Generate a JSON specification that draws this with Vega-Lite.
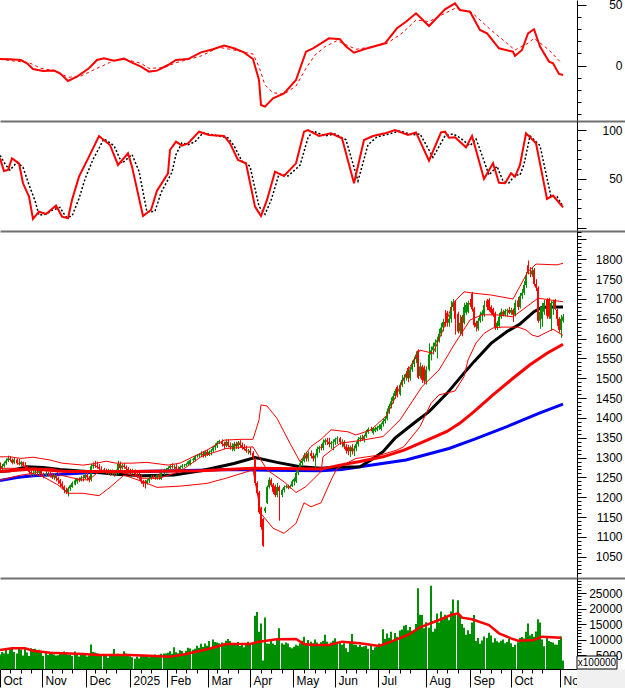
{
"$schema":"https://vega.github.io/schema/vega-lite/v6.json",
"padding":{"left":-6,"top":-2,"right":0,"bottom":0},
"background":"white",
"bounds":"flush",
"spacing":0,
"config":{"view":{"stroke":null},"axis":{"grid":false,"title":null,"labelFont":"Liberation Sans","labelFontSize":12,"labelColor":"#000","tickColor":"#000","domainColor":"#000","labelOverlap":false,"labelFlush":false,"labelBound":false}},
"datasets":{
"bars":[
{"i":0,"o":1282,"h":1288,"l":1266,"c":1272,"v":5200},{"i":1,"o":1272,"h":1284,"l":1268,"c":1279,"v":6000},{"i":2,"o":1279,"h":1290,"l":1275,"c":1286,"v":5600},{"i":3,"o":1286,"h":1298,"l":1282,"c":1293,"v":6800},{"i":4,"o":1293,"h":1305,"l":1289,"c":1298,"v":5400},{"i":5,"o":1298,"h":1304,"l":1290,"c":1294,"v":7000},{"i":6,"o":1294,"h":1298,"l":1283,"c":1287,"v":7300},{"i":7,"o":1287,"h":1299,"l":1284,"c":1295,"v":6000},{"i":8,"o":1295,"h":1298,"l":1282,"c":1286,"v":5500},{"i":9,"o":1286,"h":1297,"l":1280,"c":1283,"v":7100},
{"i":10,"o":1283,"h":1292,"l":1278,"c":1288,"v":6800},{"i":11,"o":1288,"h":1290,"l":1276,"c":1280,"v":4800},{"i":12,"o":1280,"h":1289,"l":1272,"c":1276,"v":7000},{"i":13,"o":1276,"h":1280,"l":1266,"c":1273,"v":5800},{"i":14,"o":1273,"h":1276,"l":1258,"c":1264,"v":4700},{"i":15,"o":1264,"h":1268,"l":1252,"c":1260,"v":7200},{"i":16,"o":1260,"h":1268,"l":1254,"c":1262,"v":6900},{"i":17,"o":1262,"h":1272,"l":1258,"c":1265,"v":7000},{"i":18,"o":1265,"h":1272,"l":1258,"c":1262,"v":6400},{"i":19,"o":1262,"h":1270,"l":1256,"c":1266,"v":6700},
{"i":20,"o":1266,"h":1268,"l":1252,"c":1258,"v":6300},{"i":21,"o":1258,"h":1262,"l":1248,"c":1256,"v":4700},{"i":22,"o":1256,"h":1266,"l":1252,"c":1260,"v":6100},{"i":23,"o":1260,"h":1264,"l":1252,"c":1258,"v":5000},{"i":24,"o":1258,"h":1264,"l":1250,"c":1254,"v":5600},{"i":25,"o":1254,"h":1262,"l":1246,"c":1250,"v":5500},{"i":26,"o":1250,"h":1260,"l":1244,"c":1256,"v":5200},{"i":27,"o":1256,"h":1258,"l":1240,"c":1248,"v":4800},{"i":28,"o":1248,"h":1252,"l":1234,"c":1243,"v":4900},{"i":29,"o":1243,"h":1246,"l":1226,"c":1235,"v":5800},
{"i":30,"o":1235,"h":1240,"l":1220,"c":1227,"v":5300},{"i":31,"o":1227,"h":1230,"l":1210,"c":1218,"v":6100},{"i":32,"o":1218,"h":1224,"l":1208,"c":1214,"v":5600},{"i":33,"o":1212,"h":1226,"l":1202,"c":1222,"v":5200},{"i":34,"o":1222,"h":1232,"l":1216,"c":1230,"v":5100},{"i":35,"o":1226,"h":1240,"l":1224,"c":1236,"v":4700},{"i":36,"o":1232,"h":1248,"l":1230,"c":1243,"v":6100},{"i":37,"o":1240,"h":1248,"l":1234,"c":1246,"v":5000},{"i":38,"o":1246,"h":1250,"l":1238,"c":1242,"v":4500},{"i":39,"o":1242,"h":1254,"l":1240,"c":1250,"v":5200},
{"i":40,"o":1250,"h":1256,"l":1240,"c":1248,"v":5300},{"i":41,"o":1248,"h":1260,"l":1246,"c":1256,"v":5000},{"i":42,"o":1256,"h":1262,"l":1242,"c":1250,"v":4500},{"i":43,"o":1250,"h":1254,"l":1238,"c":1244,"v":4900},{"i":44,"o":1244,"h":1284,"l":1240,"c":1278,"v":8400},{"i":45,"o":1278,"h":1288,"l":1272,"c":1282,"v":6000},{"i":46,"o":1282,"h":1292,"l":1274,"c":1279,"v":5800},{"i":47,"o":1279,"h":1290,"l":1272,"c":1276,"v":5600},{"i":48,"o":1276,"h":1284,"l":1268,"c":1272,"v":5400},{"i":49,"o":1272,"h":1278,"l":1264,"c":1270,"v":5200},
{"i":50,"o":1270,"h":1274,"l":1262,"c":1266,"v":5300},{"i":51,"o":1266,"h":1272,"l":1258,"c":1262,"v":5000},{"i":52,"o":1262,"h":1272,"l":1256,"c":1268,"v":4000},{"i":53,"o":1268,"h":1270,"l":1254,"c":1260,"v":5000},{"i":54,"o":1260,"h":1270,"l":1256,"c":1264,"v":5400},{"i":55,"o":1264,"h":1268,"l":1252,"c":1258,"v":6900},{"i":56,"o":1258,"h":1270,"l":1254,"c":1266,"v":5000},{"i":57,"o":1262,"h":1292,"l":1258,"c":1284,"v":5400},{"i":58,"o":1284,"h":1290,"l":1268,"c":1273,"v":5000},{"i":59,"o":1273,"h":1284,"l":1270,"c":1280,"v":4700},
{"i":60,"o":1280,"h":1286,"l":1272,"c":1276,"v":6200},{"i":61,"o":1276,"h":1280,"l":1268,"c":1272,"v":5500},{"i":62,"o":1272,"h":1276,"l":1262,"c":1268,"v":5100},{"i":63,"o":1268,"h":1272,"l":1258,"c":1262,"v":4600},{"i":64,"o":1262,"h":1272,"l":1258,"c":1268,"v":4300},{"i":65,"o":1268,"h":1270,"l":1252,"c":1258,"v":3800},{"i":66,"o":1258,"h":1262,"l":1248,"c":1254,"v":4500},{"i":67,"o":1254,"h":1262,"l":1244,"c":1250,"v":3900},{"i":68,"o":1250,"h":1258,"l":1234,"c":1240,"v":4600},{"i":69,"o":1240,"h":1244,"l":1226,"c":1234,"v":4700},
{"i":70,"o":1240,"h":1244,"l":1222,"c":1235,"v":5000},{"i":71,"o":1235,"h":1246,"l":1232,"c":1242,"v":4700},{"i":72,"o":1242,"h":1252,"l":1236,"c":1248,"v":4300},{"i":73,"o":1248,"h":1256,"l":1244,"c":1252,"v":4500},{"i":74,"o":1252,"h":1256,"l":1246,"c":1249,"v":4600},{"i":75,"o":1249,"h":1254,"l":1244,"c":1248,"v":5200},{"i":76,"o":1248,"h":1258,"l":1244,"c":1256,"v":5000},{"i":77,"o":1256,"h":1260,"l":1244,"c":1250,"v":5100},{"i":78,"o":1246,"h":1270,"l":1244,"c":1262,"v":5400},{"i":79,"o":1262,"h":1272,"l":1256,"c":1266,"v":5500},
{"i":80,"o":1266,"h":1274,"l":1260,"c":1270,"v":5500},{"i":81,"o":1270,"h":1278,"l":1264,"c":1274,"v":5700},{"i":82,"o":1274,"h":1282,"l":1270,"c":1279,"v":6200},{"i":83,"o":1279,"h":1286,"l":1272,"c":1276,"v":5400},{"i":84,"o":1276,"h":1282,"l":1270,"c":1277,"v":7500},{"i":85,"o":1277,"h":1284,"l":1268,"c":1272,"v":5900},{"i":86,"o":1272,"h":1278,"l":1266,"c":1270,"v":5600},{"i":87,"o":1270,"h":1280,"l":1268,"c":1276,"v":6500},{"i":88,"o":1276,"h":1284,"l":1272,"c":1280,"v":6300},{"i":89,"o":1280,"h":1284,"l":1276,"c":1281,"v":5200},
{"i":90,"o":1281,"h":1286,"l":1278,"c":1283,"v":6400},{"i":91,"o":1283,"h":1292,"l":1280,"c":1290,"v":7300},{"i":92,"o":1284,"h":1296,"l":1280,"c":1294,"v":7100},{"i":93,"o":1294,"h":1300,"l":1288,"c":1296,"v":6700},{"i":94,"o":1294,"h":1306,"l":1290,"c":1304,"v":7000},{"i":95,"o":1304,"h":1308,"l":1300,"c":1305,"v":8000},{"i":96,"o":1305,"h":1310,"l":1300,"c":1307,"v":7300},{"i":97,"o":1307,"h":1316,"l":1302,"c":1310,"v":8600},{"i":98,"o":1310,"h":1316,"l":1300,"c":1305,"v":7600},{"i":99,"o":1305,"h":1318,"l":1300,"c":1314,"v":8700},
{"i":100,"o":1314,"h":1320,"l":1304,"c":1308,"v":8000},{"i":101,"o":1308,"h":1318,"l":1304,"c":1315,"v":9500},{"i":102,"o":1315,"h":1322,"l":1306,"c":1318,"v":7500},{"i":103,"o":1318,"h":1330,"l":1314,"c":1326,"v":10000},{"i":104,"o":1326,"h":1336,"l":1318,"c":1330,"v":9200},{"i":105,"o":1330,"h":1342,"l":1324,"c":1338,"v":9000},{"i":106,"o":1338,"h":1345,"l":1334,"c":1342,"v":8800},{"i":107,"o":1342,"h":1346,"l":1328,"c":1334,"v":9000},{"i":108,"o":1334,"h":1340,"l":1322,"c":1330,"v":8700},{"i":109,"o":1330,"h":1346,"l":1326,"c":1340,"v":9600},
{"i":110,"o":1340,"h":1346,"l":1326,"c":1330,"v":10200},{"i":111,"o":1330,"h":1338,"l":1320,"c":1326,"v":9500},{"i":112,"o":1326,"h":1336,"l":1316,"c":1330,"v":8600},{"i":113,"o":1320,"h":1340,"l":1316,"c":1335,"v":8300},{"i":114,"o":1335,"h":1340,"l":1322,"c":1328,"v":8400},{"i":115,"o":1328,"h":1342,"l":1322,"c":1338,"v":9200},{"i":116,"o":1338,"h":1344,"l":1326,"c":1332,"v":7900},{"i":117,"o":1332,"h":1338,"l":1320,"c":1326,"v":8600},{"i":118,"o":1326,"h":1334,"l":1318,"c":1322,"v":7500},{"i":119,"o":1322,"h":1330,"l":1312,"c":1316,"v":8700},
{"i":120,"o":1316,"h":1322,"l":1308,"c":1318,"v":9300},{"i":121,"o":1318,"h":1326,"l":1306,"c":1312,"v":8400},{"i":122,"o":1312,"h":1316,"l":1296,"c":1300,"v":8800},{"i":123,"o":1296,"h":1300,"l":1230,"c":1236,"v":17700},{"i":124,"o":1236,"h":1240,"l":1205,"c":1210,"v":18900},{"i":125,"o":1212,"h":1216,"l":1158,"c":1162,"v":12500},{"i":126,"o":1172,"h":1176,"l":1118,"c":1125,"v":15200},{"i":127,"o":1145,"h":1148,"l":1075,"c":1078,"v":3200},{"i":128,"o":1165,"h":1176,"l":1160,"c":1172,"v":17100},{"i":129,"o":1186,"h":1230,"l":1183,"c":1226,"v":8700},
{"i":130,"o":1226,"h":1250,"l":1222,"c":1244,"v":8600},{"i":131,"o":1244,"h":1248,"l":1226,"c":1230,"v":9500},{"i":132,"o":1232,"h":1236,"l":1208,"c":1214,"v":8700},{"i":133,"o":1228,"h":1232,"l":1200,"c":1206,"v":8200},{"i":134,"o":1206,"h":1236,"l":1200,"c":1226,"v":9800},{"i":135,"o":1226,"h":1230,"l":1141,"c":1216,"v":13600},{"i":136,"o":1206,"h":1222,"l":1200,"c":1218,"v":8800},{"i":137,"o":1218,"h":1230,"l":1212,"c":1226,"v":8400},{"i":138,"o":1226,"h":1232,"l":1222,"c":1228,"v":9000},{"i":139,"o":1228,"h":1232,"l":1220,"c":1224,"v":8700},
{"i":140,"o":1224,"h":1232,"l":1222,"c":1228,"v":7500},{"i":141,"o":1228,"h":1244,"l":1226,"c":1240,"v":7200},{"i":142,"o":1240,"h":1250,"l":1230,"c":1246,"v":7700},{"i":143,"o":1240,"h":1268,"l":1236,"c":1262,"v":8300},{"i":144,"o":1262,"h":1276,"l":1256,"c":1272,"v":8000},{"i":145,"o":1272,"h":1292,"l":1268,"c":1286,"v":8800},{"i":146,"o":1286,"h":1298,"l":1280,"c":1292,"v":9600},{"i":147,"o":1292,"h":1312,"l":1288,"c":1306,"v":10900},{"i":148,"o":1306,"h":1314,"l":1290,"c":1298,"v":8700},{"i":149,"o":1298,"h":1316,"l":1290,"c":1311,"v":9800},
{"i":150,"o":1311,"h":1318,"l":1298,"c":1304,"v":9300},{"i":151,"o":1304,"h":1312,"l":1290,"c":1298,"v":8800},{"i":152,"o":1298,"h":1310,"l":1270,"c":1305,"v":10000},{"i":153,"o":1305,"h":1328,"l":1300,"c":1322,"v":9000},{"i":154,"o":1322,"h":1330,"l":1312,"c":1326,"v":8500},{"i":155,"o":1326,"h":1334,"l":1318,"c":1324,"v":9100},{"i":156,"o":1324,"h":1346,"l":1318,"c":1338,"v":9500},{"i":157,"o":1338,"h":1348,"l":1332,"c":1344,"v":11500},{"i":158,"o":1344,"h":1350,"l":1332,"c":1340,"v":9300},{"i":159,"o":1340,"h":1350,"l":1326,"c":1334,"v":8200},
{"i":160,"o":1334,"h":1342,"l":1322,"c":1338,"v":9000},{"i":161,"o":1338,"h":1346,"l":1318,"c":1340,"v":9600},{"i":162,"o":1340,"h":1350,"l":1332,"c":1346,"v":10400},{"i":163,"o":1346,"h":1354,"l":1334,"c":1349,"v":9300},{"i":164,"o":1349,"h":1352,"l":1332,"c":1338,"v":9000},{"i":165,"o":1338,"h":1346,"l":1326,"c":1340,"v":8300},{"i":166,"o":1340,"h":1344,"l":1322,"c":1328,"v":8800},{"i":167,"o":1328,"h":1334,"l":1310,"c":1318,"v":7200},{"i":168,"o":1326,"h":1332,"l":1306,"c":1316,"v":6000},{"i":169,"o":1316,"h":1330,"l":1302,"c":1326,"v":9000},
{"i":170,"o":1326,"h":1334,"l":1308,"c":1316,"v":11800},{"i":171,"o":1316,"h":1330,"l":1304,"c":1323,"v":8400},{"i":172,"o":1323,"h":1340,"l":1316,"c":1334,"v":8300},{"i":173,"o":1334,"h":1352,"l":1328,"c":1346,"v":7700},{"i":174,"o":1346,"h":1356,"l":1340,"c":1350,"v":8200},{"i":175,"o":1350,"h":1358,"l":1342,"c":1346,"v":7600},{"i":176,"o":1346,"h":1358,"l":1338,"c":1354,"v":7800},{"i":177,"o":1354,"h":1370,"l":1350,"c":1364,"v":8000},{"i":178,"o":1364,"h":1376,"l":1360,"c":1372,"v":7000},{"i":179,"o":1372,"h":1378,"l":1366,"c":1370,"v":8000},
{"i":180,"o":1362,"h":1376,"l":1358,"c":1372,"v":6600},{"i":181,"o":1368,"h":1378,"l":1364,"c":1374,"v":7500},{"i":182,"o":1370,"h":1380,"l":1366,"c":1376,"v":8200},{"i":183,"o":1376,"h":1384,"l":1370,"c":1380,"v":8700},{"i":184,"o":1372,"h":1388,"l":1368,"c":1384,"v":8500},{"i":185,"o":1384,"h":1398,"l":1378,"c":1392,"v":13300},{"i":186,"o":1392,"h":1404,"l":1386,"c":1398,"v":10200},{"i":187,"o":1398,"h":1424,"l":1394,"c":1416,"v":11900},{"i":188,"o":1416,"h":1436,"l":1410,"c":1430,"v":10600},{"i":189,"o":1430,"h":1452,"l":1424,"c":1442,"v":12500},
{"i":190,"o":1442,"h":1462,"l":1436,"c":1455,"v":9500},{"i":191,"o":1455,"h":1474,"l":1448,"c":1468,"v":12100},{"i":192,"o":1478,"h":1482,"l":1452,"c":1460,"v":10900},{"i":193,"o":1460,"h":1490,"l":1456,"c":1484,"v":12900},{"i":194,"o":1484,"h":1508,"l":1478,"c":1496,"v":13200},{"i":195,"o":1496,"h":1510,"l":1486,"c":1502,"v":14400},{"i":196,"o":1502,"h":1518,"l":1494,"c":1512,"v":14700},{"i":197,"o":1526,"h":1530,"l":1490,"c":1500,"v":13000},{"i":198,"o":1500,"h":1528,"l":1494,"c":1522,"v":14000},{"i":199,"o":1522,"h":1545,"l":1516,"c":1536,"v":12800},
{"i":200,"o":1536,"h":1555,"l":1528,"c":1548,"v":12900},{"i":201,"o":1548,"h":1568,"l":1538,"c":1560,"v":15000},{"i":202,"o":1570,"h":1573,"l":1498,"c":1502,"v":26500},{"i":203,"o":1506,"h":1540,"l":1500,"c":1530,"v":18000},{"i":204,"o":1530,"h":1534,"l":1488,"c":1496,"v":17900},{"i":205,"o":1528,"h":1532,"l":1486,"c":1494,"v":13600},{"i":206,"o":1492,"h":1530,"l":1484,"c":1522,"v":15600},{"i":207,"o":1522,"h":1588,"l":1518,"c":1560,"v":13800},{"i":208,"o":1560,"h":1580,"l":1545,"c":1571,"v":27300},{"i":209,"o":1571,"h":1590,"l":1560,"c":1580,"v":12500},
{"i":210,"o":1580,"h":1598,"l":1566,"c":1590,"v":13500},{"i":211,"o":1590,"h":1605,"l":1550,"c":1596,"v":18400},{"i":212,"o":1596,"h":1625,"l":1590,"c":1612,"v":15500},{"i":213,"o":1612,"h":1640,"l":1606,"c":1628,"v":19000},{"i":214,"o":1628,"h":1650,"l":1618,"c":1642,"v":16500},{"i":215,"o":1642,"h":1672,"l":1630,"c":1635,"v":18000},{"i":216,"o":1665,"h":1670,"l":1630,"c":1640,"v":17500},{"i":217,"o":1640,"h":1660,"l":1630,"c":1650,"v":16200},{"i":218,"o":1650,"h":1695,"l":1640,"c":1680,"v":19000},{"i":219,"o":1680,"h":1700,"l":1670,"c":1692,"v":22900},
{"i":220,"o":1692,"h":1697,"l":1610,"c":1650,"v":18000},{"i":221,"o":1663,"h":1668,"l":1613,"c":1618,"v":22700},{"i":222,"o":1618,"h":1660,"l":1608,"c":1640,"v":18000},{"i":223,"o":1655,"h":1660,"l":1606,"c":1612,"v":15000},{"i":224,"o":1640,"h":1690,"l":1636,"c":1680,"v":13800},{"i":225,"o":1665,"h":1692,"l":1660,"c":1685,"v":11500},{"i":226,"o":1668,"h":1696,"l":1664,"c":1690,"v":13000},{"i":227,"o":1690,"h":1700,"l":1680,"c":1686,"v":11800},{"i":228,"o":1714,"h":1718,"l":1668,"c":1674,"v":15500},{"i":229,"o":1676,"h":1680,"l":1628,"c":1634,"v":17900},
{"i":230,"o":1640,"h":1645,"l":1618,"c":1630,"v":9500},{"i":231,"o":1625,"h":1652,"l":1620,"c":1645,"v":10500},{"i":232,"o":1645,"h":1668,"l":1640,"c":1660,"v":8600},{"i":233,"o":1660,"h":1672,"l":1644,"c":1665,"v":9700},{"i":234,"o":1660,"h":1696,"l":1655,"c":1684,"v":11000},{"i":235,"o":1696,"h":1700,"l":1672,"c":1680,"v":10500},{"i":236,"o":1698,"h":1702,"l":1668,"c":1672,"v":12200},{"i":237,"o":1680,"h":1684,"l":1660,"c":1665,"v":11300},{"i":238,"o":1675,"h":1678,"l":1655,"c":1660,"v":9000},{"i":239,"o":1664,"h":1668,"l":1622,"c":1628,"v":10400},
{"i":240,"o":1628,"h":1645,"l":1622,"c":1640,"v":9400},{"i":241,"o":1632,"h":1665,"l":1628,"c":1655,"v":9000},{"i":242,"o":1655,"h":1676,"l":1650,"c":1668,"v":9600},{"i":243,"o":1668,"h":1672,"l":1656,"c":1660,"v":10000},{"i":244,"o":1660,"h":1675,"l":1656,"c":1670,"v":8800},{"i":245,"o":1670,"h":1676,"l":1655,"c":1672,"v":9200},{"i":246,"o":1672,"h":1680,"l":1662,"c":1665,"v":10200},{"i":247,"o":1665,"h":1678,"l":1660,"c":1672,"v":8800},{"i":248,"o":1672,"h":1676,"l":1642,"c":1660,"v":7600},{"i":249,"o":1660,"h":1698,"l":1656,"c":1690,"v":8300},
{"i":250,"o":1696,"h":1705,"l":1672,"c":1680,"v":9100},{"i":251,"o":1680,"h":1715,"l":1676,"c":1708,"v":10500},{"i":252,"o":1708,"h":1725,"l":1700,"c":1716,"v":10800},{"i":253,"o":1716,"h":1745,"l":1710,"c":1735,"v":10300},{"i":254,"o":1735,"h":1768,"l":1728,"c":1760,"v":12500},{"i":255,"o":1785,"h":1797,"l":1762,"c":1766,"v":15200},{"i":256,"o":1766,"h":1780,"l":1755,"c":1764,"v":11300},{"i":257,"o":1762,"h":1778,"l":1756,"c":1772,"v":11800},{"i":258,"o":1774,"h":1778,"l":1732,"c":1738,"v":10900},{"i":259,"o":1738,"h":1750,"l":1720,"c":1728,"v":12600},
{"i":260,"o":1728,"h":1732,"l":1640,"c":1645,"v":16500},{"i":261,"o":1645,"h":1680,"l":1625,"c":1668,"v":15500},{"i":262,"o":1650,"h":1690,"l":1630,"c":1680,"v":10000},{"i":263,"o":1668,"h":1698,"l":1660,"c":1690,"v":7800},{"i":264,"o":1698,"h":1702,"l":1650,"c":1658,"v":10500},{"i":265,"o":1700,"h":1703,"l":1650,"c":1656,"v":9500},{"i":266,"o":1650,"h":1696,"l":1620,"c":1690,"v":9200},{"i":267,"o":1690,"h":1698,"l":1660,"c":1693,"v":9000},{"i":268,"o":1696,"h":1700,"l":1672,"c":1678,"v":8400},{"i":269,"o":1672,"h":1676,"l":1632,"c":1650,"v":8300},
{"i":270,"o":1650,"h":1654,"l":1615,"c":1622,"v":9800},{"i":271,"o":1622,"h":1660,"l":1602,"c":1650,"v":11000},{"i":272,"o":1645,"h":1662,"l":1640,"c":1656,"v":3200}
],
"macd":[{"i":0,"y":5.3},{"i":5,"y":5.1},{"i":10,"y":4.5},{"i":13,"y":1.8},{"i":16,"y":-2.9},{"i":21,"y":-4.5},{"i":26,"y":-4.2},{"i":29,"y":-6.4},{"i":33,"y":-12.7},{"i":37,"y":-9.1},{"i":43,"y":-2.3},{"i":47,"y":4.5},{"i":50,"y":5.9},{"i":55,"y":4},{"i":60,"y":5.6},{"i":64,"y":2.3},{"i":68,"y":-0.9},{"i":72,"y":-5},{"i":76,"y":-4.2},{"i":81,"y":0.4},{"i":85,"y":4.5},{"i":91,"y":5.3},{"i":97,"y":10.8},{"i":103,"y":13.3},{"i":108,"y":16.3},{"i":113,"y":14.1},{"i":118,"y":10.8},{"i":122,"y":5.3},{"i":125,"y":-11.9},{"i":126,"y":-32.4},{"i":128,"y":-33.7},{"i":132,"y":-26.9},{"i":137,"y":-22.8},{"i":143,"y":-11.9},{"i":148,"y":11.3},{"i":151,"y":14.1},{"i":155,"y":18.2},{"i":159,"y":22.3},{"i":164,"y":21.5},{"i":167,"y":15.5},{"i":171,"y":10.5},{"i":176,"y":13.3},{"i":186,"y":18.2},{"i":192,"y":30.5},{"i":196,"y":35.9},{"i":201,"y":42.8},{"i":207,"y":32.4},{"i":215,"y":46},{"i":220,"y":51},{"i":222,"y":45.5},{"i":227,"y":44.1},{"i":232,"y":29.1},{"i":235,"y":26.4},{"i":241,"y":14.1},{"i":248,"y":11.3},{"i":249,"y":7.8},{"i":252,"y":12.7},{"i":255,"y":26.4},{"i":258,"y":29.7},{"i":261,"y":15.5},{"i":265,"y":3.2},{"i":267,"y":1.8},{"i":270,"y":-6.9},{"i":272,"y":-7.8}],
"signal":[{"i":0,"y":5},{"i":14,"y":2.3},{"i":20,"y":-2.3},{"i":27,"y":-4.5},{"i":33,"y":-9.7},{"i":39,"y":-8.6},{"i":47,"y":-2.3},{"i":55,"y":4},{"i":60,"y":5.3},{"i":68,"y":1.8},{"i":72,"y":-2.3},{"i":79,"y":-1.8},{"i":85,"y":2.3},{"i":97,"y":7.8},{"i":106,"y":14.9},{"i":113,"y":12.7},{"i":122,"y":9.4},{"i":125,"y":-0.9},{"i":128,"y":-16},{"i":132,"y":-22.3},{"i":137,"y":-23.6},{"i":143,"y":-16.8},{"i":148,"y":-2.3},{"i":152,"y":8.6},{"i":157,"y":15.4},{"i":163,"y":20.4},{"i":172,"y":13.3},{"i":180,"y":15.4},{"i":187,"y":18.2},{"i":194,"y":26.4},{"i":201,"y":37.3},{"i":207,"y":36},{"i":215,"y":42.8},{"i":220,"y":46.9},{"i":228,"y":43.3},{"i":236,"y":30.5},{"i":244,"y":19.5},{"i":249,"y":12.7},{"i":255,"y":18.2},{"i":258,"y":22.3},{"i":265,"y":12.7},{"i":271,"y":2.3}],
"stochK":[{"i":0,"y":71.1},{"i":2,"y":58.2},{"i":4,"y":59.2},{"i":6,"y":71.1},{"i":9,"y":66},{"i":11,"y":45.6},{"i":14,"y":32},{"i":16,"y":9.2},{"i":19,"y":16.6},{"i":22,"y":14.3},{"i":27,"y":22.8},{"i":30,"y":11.6},{"i":33,"y":9.9},{"i":35,"y":28.6},{"i":38,"y":52.4},{"i":43,"y":72.8},{"i":48,"y":93.9},{"i":53,"y":84.7},{"i":57,"y":64.3},{"i":62,"y":76.2},{"i":64,"y":62.6},{"i":69,"y":12.2},{"i":73,"y":18.4},{"i":76,"y":38.1},{"i":81,"y":55.8},{"i":82,"y":79.6},{"i":85,"y":88.1},{"i":88,"y":84},{"i":91,"y":86.4},{"i":96,"y":98.3},{"i":101,"y":94.9},{"i":108,"y":93.9},{"i":111,"y":86.4},{"i":115,"y":69.4},{"i":119,"y":66},{"i":123,"y":21.8},{"i":126,"y":12.2},{"i":129,"y":28.6},{"i":133,"y":57.5},{"i":137,"y":53},{"i":143,"y":66},{"i":147,"y":98.3},{"i":149,"y":100},{"i":154,"y":93.9},{"i":160,"y":96.6},{"i":165,"y":91.5},{"i":167,"y":76.2},{"i":171,"y":45.6},{"i":176,"y":89.8},{"i":180,"y":93.9},{"i":186,"y":96.6},{"i":191,"y":100},{"i":197,"y":94.9},{"i":201,"y":97.6},{"i":207,"y":68.7},{"i":213,"y":97.6},{"i":215,"y":98.3},{"i":217,"y":92.2},{"i":220,"y":92.5},{"i":225,"y":82.3},{"i":228,"y":93.9},{"i":230,"y":79.6},{"i":234,"y":50},{"i":238,"y":66},{"i":241,"y":46.2},{"i":244,"y":45.6},{"i":247,"y":55.8},{"i":249,"y":52.4},{"i":251,"y":64.3},{"i":254,"y":96.6},{"i":259,"y":86.4},{"i":264,"y":29.6},{"i":267,"y":33},{"i":272,"y":21}],
"stochD":[{"i":0,"y":74},{"i":3,"y":64},{"i":5,"y":59},{"i":8,"y":67},{"i":11,"y":62},{"i":14,"y":44},{"i":17,"y":28},{"i":19,"y":13},{"i":22,"y":14},{"i":25,"y":18},{"i":29,"y":21},{"i":32,"y":11},{"i":35,"y":12},{"i":38,"y":30},{"i":41,"y":50},{"i":45,"y":70},{"i":50,"y":91},{"i":55,"y":84},{"i":59,"y":66},{"i":64,"y":75},{"i":67,"y":58},{"i":71,"y":16},{"i":75,"y":17},{"i":78,"y":36},{"i":83,"y":57},{"i":85,"y":75},{"i":88,"y":87},{"i":91,"y":85},{"i":94,"y":88},{"i":98,"y":97},{"i":103,"y":95},{"i":110,"y":92},{"i":113,"y":84},{"i":117,"y":68},{"i":121,"y":63},{"i":125,"y":22},{"i":128,"y":14},{"i":131,"y":28},{"i":135,"y":55},{"i":139,"y":53},{"i":145,"y":64},{"i":149,"y":92},{"i":151,"y":99},{"i":157,"y":94},{"i":162,"y":96},{"i":167,"y":90},{"i":169,"y":76},{"i":173,"y":48},{"i":178,"y":85},{"i":182,"y":93},{"i":188,"y":96},{"i":193,"y":99},{"i":199,"y":95},{"i":203,"y":96},{"i":209,"y":72},{"i":215,"y":94},{"i":219,"y":96},{"i":222,"y":92},{"i":227,"y":84},{"i":230,"y":91},{"i":232,"y":80},{"i":236,"y":54},{"i":240,"y":63},{"i":243,"y":48},{"i":246,"y":46},{"i":249,"y":54},{"i":251,"y":54},{"i":253,"y":65},{"i":256,"y":94},{"i":261,"y":84},{"i":266,"y":32},{"i":269,"y":32},{"i":272,"y":22}],
"ma200":[{"i":0,"y":1242},{"i":8,"y":1250},{"i":16,"y":1254},{"i":30,"y":1258},{"i":50,"y":1264},{"i":80,"y":1266},{"i":111,"y":1270},{"i":130,"y":1268},{"i":155,"y":1267},{"i":165,"y":1270},{"i":174,"y":1277},{"i":196,"y":1294},{"i":217,"y":1323},{"i":229,"y":1346},{"i":245,"y":1378},{"i":261,"y":1413},{"i":272,"y":1435}],
"ma100":[{"i":0,"y":1265},{"i":16,"y":1271},{"i":32,"y":1265},{"i":64,"y":1265},{"i":97,"y":1267},{"i":122,"y":1273},{"i":155,"y":1271},{"i":164,"y":1281},{"i":174,"y":1290},{"i":185,"y":1302},{"i":195,"y":1319},{"i":206,"y":1343},{"i":216,"y":1366},{"i":222,"y":1387},{"i":229,"y":1416},{"i":238,"y":1458},{"i":248,"y":1500},{"i":256,"y":1534},{"i":264,"y":1563},{"i":272,"y":1586}],
"ma50":[{"i":0,"y":1265},{"i":5,"y":1267},{"i":13,"y":1277},{"i":21,"y":1275},{"i":29,"y":1270},{"i":42,"y":1265},{"i":56,"y":1258},{"i":69,"y":1254},{"i":84,"y":1256},{"i":97,"y":1267},{"i":113,"y":1285},{"i":123,"y":1300},{"i":134,"y":1288},{"i":145,"y":1277},{"i":155,"y":1273},{"i":164,"y":1276},{"i":174,"y":1277},{"i":179,"y":1294},{"i":185,"y":1315},{"i":191,"y":1349},{"i":201,"y":1391},{"i":207,"y":1416},{"i":216,"y":1462},{"i":224,"y":1513},{"i":229,"y":1542},{"i":237,"y":1588},{"i":245,"y":1618},{"i":251,"y":1637},{"i":258,"y":1668},{"i":262,"y":1679},{"i":272,"y":1680}],
"ma20":[{"i":0,"y":1273},{"i":16,"y":1273},{"i":26,"y":1273},{"i":29,"y":1256},{"i":39,"y":1244},{"i":43,"y":1244},{"i":48,"y":1265},{"i":56,"y":1265},{"i":64,"y":1256},{"i":69,"y":1248},{"i":77,"y":1248},{"i":87,"y":1265},{"i":97,"y":1302},{"i":109,"y":1323},{"i":122,"y":1327},{"i":129,"y":1269},{"i":137,"y":1239},{"i":143,"y":1212},{"i":148,"y":1227},{"i":155,"y":1265},{"i":156,"y":1302},{"i":164,"y":1336},{"i":174,"y":1343},{"i":185,"y":1353},{"i":193,"y":1395},{"i":204,"y":1479},{"i":212,"y":1521},{"i":215,"y":1546},{"i":219,"y":1580},{"i":227,"y":1647},{"i":233,"y":1660},{"i":240,"y":1660},{"i":248,"y":1655},{"i":251,"y":1668},{"i":260,"y":1702},{"i":272,"y":1693}],
"upper":[{"i":0,"y":1302},{"i":5,"y":1302},{"i":10,"y":1298},{"i":16,"y":1301},{"i":24,"y":1294},{"i":30,"y":1286},{"i":40,"y":1281},{"i":46,"y":1285},{"i":51,"y":1291},{"i":56,"y":1286},{"i":64,"y":1286},{"i":71,"y":1288},{"i":81,"y":1281},{"i":87,"y":1286},{"i":93,"y":1302},{"i":100,"y":1319},{"i":108,"y":1344},{"i":116,"y":1346},{"i":122,"y":1346},{"i":125,"y":1395},{"i":126,"y":1433},{"i":129,"y":1430},{"i":134,"y":1399},{"i":140,"y":1336},{"i":145,"y":1290},{"i":150,"y":1328},{"i":155,"y":1346},{"i":160,"y":1370},{"i":168,"y":1365},{"i":172,"y":1357},{"i":179,"y":1370},{"i":187,"y":1407},{"i":193,"y":1478},{"i":198,"y":1529},{"i":203,"y":1571},{"i":209,"y":1563},{"i":214,"y":1622},{"i":219,"y":1689},{"i":224,"y":1718},{"i":230,"y":1714},{"i":237,"y":1710},{"i":248,"y":1700},{"i":255,"y":1769},{"i":259,"y":1788},{"i":269,"y":1786},{"i":272,"y":1790}],
"lower":[{"i":0,"y":1243},{"i":10,"y":1256},{"i":16,"y":1260},{"i":21,"y":1252},{"i":28,"y":1231},{"i":33,"y":1210},{"i":40,"y":1210},{"i":48,"y":1204},{"i":53,"y":1225},{"i":60,"y":1256},{"i":69,"y":1239},{"i":76,"y":1225},{"i":87,"y":1228},{"i":100,"y":1235},{"i":109,"y":1248},{"i":122,"y":1269},{"i":126,"y":1159},{"i":132,"y":1122},{"i":137,"y":1109},{"i":143,"y":1134},{"i":147,"y":1186},{"i":150,"y":1176},{"i":155,"y":1186},{"i":160,"y":1243},{"i":163,"y":1273},{"i":172,"y":1298},{"i":184,"y":1307},{"i":192,"y":1319},{"i":195,"y":1328},{"i":203,"y":1378},{"i":208,"y":1437},{"i":212,"y":1458},{"i":220,"y":1468},{"i":224,"y":1504},{"i":226,"y":1546},{"i":230,"y":1589},{"i":234,"y":1613},{"i":238,"y":1627},{"i":242,"y":1629},{"i":250,"y":1629},{"i":254,"y":1622},{"i":257,"y":1609},{"i":260,"y":1605},{"i":267,"y":1624},{"i":272,"y":1608}],
"volma":[{"i":0,"y":6619},{"i":6,"y":7157},{"i":12,"y":7157},{"i":16,"y":6404},{"i":24,"y":5759},{"i":40,"y":5329},{"i":48,"y":5006},{"i":63,"y":5006},{"i":72,"y":4791},{"i":82,"y":4469},{"i":90,"y":5329},{"i":100,"y":6834},{"i":109,"y":8554},{"i":121,"y":8554},{"i":125,"y":9306},{"i":134,"y":10059},{"i":143,"y":10166},{"i":147,"y":8554},{"i":151,"y":8232},{"i":159,"y":8232},{"i":165,"y":9306},{"i":174,"y":8769},{"i":183,"y":7909},{"i":189,"y":9306},{"i":197,"y":11456},{"i":203,"y":13929},{"i":212,"y":16294},{"i":218,"y":17906},{"i":221,"y":18444},{"i":223,"y":17046},{"i":228,"y":16509},{"i":236,"y":14681},{"i":241,"y":11994},{"i":247,"y":10381},{"i":250,"y":9629},{"i":258,"y":9844},{"i":262,"y":10919},{"i":271,"y":10596}],
"refs":[{"i":0},{"i":278.7}],
"edge":[{"i":0},{"i":301.9}],
"corner":[{"i":278.7,"i2":301.9,"y":484,"y2":-5645}],
"unitbox":[{"i":278.7,"i2":298,"y":4677,"y2":484}],
"unit":[{"i":288.4,"y":2500,"t":"x100000"}]
},
"vconcat":[
{"width":625,"height":121,
"resolve":{"axis":{"x":"independent","y":"independent"}},
"encoding":{"x":{"field":"i","type":"quantitative","scale":{"domain":[0,301.9],"round":true},"axis":null},"y":{"field":"y","type":"quantitative","scale":{"domain":[-45.5,53.7]},"axis":null}},
"layer":[
{"data":{"name":"edge"},"mark":{"type":"line","color":"#e4e4e4","strokeWidth":2},"encoding":{"y":{"datum":-43.9,"type":"quantitative","scale":{"domain":[-45.5,53.7]},"axis":null}}},
{"data":{"name":"refs"},"mark":{"type":"line","color":"#0000cc","strokeWidth":1,"strokeDash":[4,3]},"encoding":{"y":{"datum":0,"type":"quantitative","scale":{"domain":[-45.5,53.7]},"axis":null}}},
{"data":{"name":"signal"},"mark":{"type":"line","color":"#ff0000","strokeWidth":1,"strokeDash":[3,3]},"encoding":{"y":{"field":"y","type":"quantitative","scale":{"domain":[-45.5,53.7]},"axis":{"orient":"right","offset":-48,"values":[-40,-30,-20,-10,10,20,30,40],"tickSize":4,"labels":false,"domain":false}}}},
{"data":{"name":"macd"},"mark":{"type":"line","color":"#ff0000","strokeWidth":2},"encoding":{"y":{"field":"y","type":"quantitative","scale":{"domain":[-45.5,53.7]},"axis":{"orient":"right","offset":-48,"values":[0,50],"tickSize":9,"labelPadding":36,"labelAlign":"right"}}}}
]},
{"width":625,"height":110,
"resolve":{"axis":{"x":"independent","y":"independent"}},
"encoding":{"x":{"field":"i","type":"quantitative","scale":{"domain":[0,301.9],"round":true},"axis":null},"y":{"field":"y","type":"quantitative","scale":{"domain":[-3.1,109.2]},"axis":null}},
"layer":[
{"data":{"name":"edge"},"mark":{"type":"line","color":"#e4e4e4","strokeWidth":2},"encoding":{"x":{"field":"i","type":"quantitative","scale":{"domain":[0,301.9],"round":true},"axis":{"orient":"top","labels":false,"ticks":false,"domainColor":"#707070","domainWidth":2}},"y":{"datum":-1,"type":"quantitative","scale":{"domain":[-3.1,109.2]},"axis":null}}},
{"data":{"name":"refs"},"mark":{"type":"line","color":"#0000cc","strokeWidth":1,"strokeDash":[4,3]},"encoding":{"y":{"datum":80,"type":"quantitative","scale":{"domain":[-3.1,109.2]},"axis":null}}},
{"data":{"name":"refs"},"mark":{"type":"line","color":"#0000cc","strokeWidth":1,"strokeDash":[4,3]},"encoding":{"y":{"datum":20,"type":"quantitative","scale":{"domain":[-3.1,109.2]},"axis":null}}},
{"data":{"name":"stochD"},"mark":{"type":"line","color":"#000000","strokeWidth":1.5,"strokeDash":[2,2]},"encoding":{"y":{"field":"y","type":"quantitative","scale":{"domain":[-3.1,109.2]},"axis":{"orient":"right","offset":-48,"values":[10,20,30,40,60,70,80,90],"tickSize":4,"labels":false,"domain":false}}}},
{"data":{"name":"stochK"},"mark":{"type":"line","color":"#ff0000","strokeWidth":2},"encoding":{"y":{"field":"y","type":"quantitative","scale":{"domain":[-3.1,109.2]},"axis":{"orient":"right","offset":-48,"values":[0,50,100],"tickSize":9,"labelPadding":36,"labelAlign":"right","labelExpr":"datum.value==0?'':datum.label"}}}}
]},
{"width":625,"height":347,
"resolve":{"axis":{"x":"independent","y":"independent"}},
"encoding":{"x":{"field":"i","type":"quantitative","scale":{"domain":[0,301.9],"round":true},"axis":null},"y":{"field":"y","type":"quantitative","scale":{"domain":[996.4,1871.4]},"axis":null}},
"layer":[
{"data":{"name":"edge"},"mark":{"type":"line","color":"#e4e4e4","strokeWidth":2},"encoding":{"x":{"field":"i","type":"quantitative","scale":{"domain":[0,301.9],"round":true},"axis":{"orient":"top","labels":false,"ticks":false,"domainColor":"#707070","domainWidth":2}},"y":{"datum":1001.5,"type":"quantitative","scale":{"domain":[996.4,1871.4]},"axis":null}}},
{"data":{"name":"ma200"},"mark":{"type":"line","color":"#0000ff","strokeWidth":3},"encoding":{"y":{"field":"y","type":"quantitative","scale":{"domain":[996.4,1871.4]},"axis":{"orient":"right","offset":-48,"values":[1010,1020,1030,1040,1060,1070,1080,1090,1110,1120,1130,1140,1160,1170,1180,1190,1210,1220,1230,1240,1260,1270,1280,1290,1310,1320,1330,1340,1360,1370,1380,1390,1410,1420,1430,1440,1460,1470,1480,1490,1510,1520,1530,1540,1560,1570,1580,1590,1610,1620,1630,1640,1660,1670,1680,1690,1710,1720,1730,1740,1760,1770,1780,1790,1810,1820,1830,1840,1860,1870],"tickSize":4,"labels":false,"domain":false}}}},
{"data":{"name":"ma50"},"mark":{"type":"line","color":"#000000","strokeWidth":3},"encoding":{"y":{"field":"y","type":"quantitative","scale":{"domain":[996.4,1871.4]},"axis":{"orient":"right","offset":-48,"values":[1050,1100,1150,1200,1250,1300,1350,1400,1450,1500,1550,1600,1650,1700,1750,1800,1850],"tickSize":9,"labelPadding":36,"labelAlign":"right","labelExpr":"datum.value==1850?'':datum.label","format":"d"}}}},
{"data":{"name":"bars"},"mark":{"type":"rule","strokeWidth":1,"xOffset":0.5},"encoding":{"y":{"field":"l","type":"quantitative","scale":{"domain":[996.4,1871.4]},"axis":null},"y2":{"field":"h"},"color":{"condition":{"test":"datum.c>=datum.o","value":"#008f00"},"value":"#ff0000"}}},
{"data":{"name":"bars"},"mark":{"type":"rule","strokeWidth":2},"encoding":{"y":{"field":"o","type":"quantitative","scale":{"domain":[996.4,1871.4]},"axis":null},"y2":{"field":"c"},"color":{"condition":{"test":"datum.c>=datum.o","value":"#008f00"},"value":"#ff0000"}}},
{"data":{"name":"upper"},"mark":{"type":"line","color":"#ff0000","strokeWidth":1}},
{"data":{"name":"ma20"},"mark":{"type":"line","color":"#ff0000","strokeWidth":1}},
{"data":{"name":"lower"},"mark":{"type":"line","color":"#ff0000","strokeWidth":1}},
{"data":{"name":"ma100"},"mark":{"type":"line","color":"#ff0000","strokeWidth":3}}
]},
{"width":625,"height":110,
"resolve":{"axis":{"x":"independent","y":"independent"}},
"encoding":{"x":{"field":"i","type":"quantitative","scale":{"domain":[0,301.9],"round":true},"axis":null},"y":{"field":"y","type":"quantitative","scale":{"domain":[-5645,29839]},"axis":null}},
"layer":[
{"data":{"name":"edge"},"mark":{"type":"line","strokeOpacity":0},"encoding":{"x":{"field":"i","type":"quantitative","scale":{"domain":[0,301.9],"round":true},"axis":{"orient":"top","labels":false,"ticks":false,"domainColor":"#707070","domainWidth":2}},"y":{"datum":0,"type":"quantitative","scale":{"domain":[-5645,29839]},"axis":{"orient":"right","offset":-48,"values":[1000,2000,3000,4000,6000,7000,8000,9000,11000,12000,13000,14000,16000,17000,18000,19000,21000,22000,23000,24000,26000,27000,28000,29000],"tickSize":4,"labels":false,"domain":false}}}},
{"data":{"name":"bars"},"mark":{"type":"rule","strokeWidth":2,"color":"#008f00"},"encoding":{"x":{"field":"i","type":"quantitative","scale":{"domain":[0,301.9],"round":true},"axis":{"orient":"bottom","offset":-19,"values":[0,20.3,41.5,63,80.5,100.3,121,141.7,162,182.6,206,227,247,270.5],"tickSize":18,"labelAlign":"left","labelBaseline":"middle","labelOffset":3,"labelPadding":-7,"labelExpr":"['Oct','Nov','Dec','2025','Feb','Mar','Apr','May','Jun','Jul','Aug','Sep','Oct','Nov'][indexof([0,20.3,41.5,63,80.5,100.3,121,141.7,162,182.6,206,227,247,270.5],datum.value)]"}},"y":{"field":"v","type":"quantitative","scale":{"domain":[-5645,29839]},"axis":{"orient":"right","offset":-48,"values":[5000,10000,15000,20000,25000],"tickSize":9,"labelPadding":36,"labelAlign":"right","format":"d"}},"y2":{"datum":484}}},
{"data":{"name":"volma"},"mark":{"type":"line","color":"#ff0000","strokeWidth":2.5},"encoding":{"x":{"field":"i","type":"quantitative","scale":{"domain":[0,301.9],"round":true},"axis":{"orient":"bottom","offset":-19,"values":[5,10,15,25,30,35,46,51,56,68,73,85,90,95,105,110,115,126,131,136,147,152,157,167,172,177,188,193,198,211,216,221,232,237,242,252,257,262],"tickSize":4,"labels":false,"domain":false}}}},
{"data":{"name":"corner"},"mark":{"type":"rect","color":"#f0f0f0"},"encoding":{"x2":{"field":"i2"},"y2":{"field":"y2"}}},
{"data":{"name":"unitbox"},"mark":{"type":"rect","fill":"#ffffff","stroke":"#000000","strokeWidth":1},"encoding":{"x2":{"field":"i2"},"y2":{"field":"y2"}}},
{"data":{"name":"unit"},"mark":{"type":"text","font":"Liberation Sans","fontSize":10,"color":"#000000","align":"center","baseline":"middle"},"encoding":{"text":{"field":"t","type":"nominal"}}}
]}
]
}
